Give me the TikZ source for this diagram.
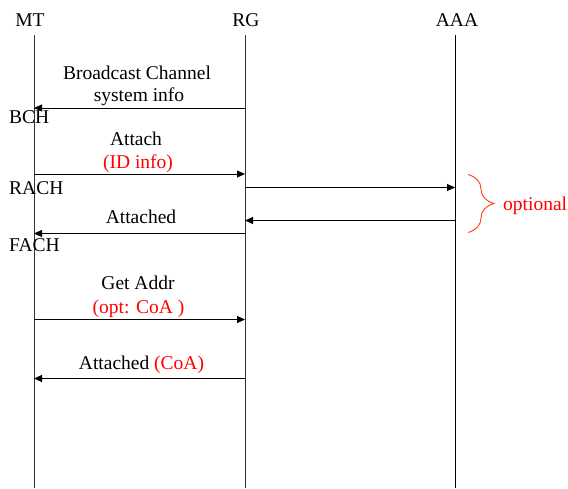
\documentclass[tikz,border=0pt]{standalone}
\usepackage{fontspec}
\setmainfont{Liberation Serif}
\usepackage{tikz}
\usetikzlibrary{arrows.meta,decorations.pathreplacing}

\definecolor{bracered}{RGB}{255,60,20}

\tikzset{
  lifeline/.style={line width=0.8pt, black!80},
  msg/.style={line width=0.8pt, -{Triangle[length=8pt,width=7pt]}},
  lbl/.style={anchor=base, inner sep=0pt, font=\fontsize{19.5}{23}\selectfont},
  chan/.style={anchor=base west, inner sep=0pt, font=\fontsize{19.5}{23}\selectfont},
}

\begin{document}
\begin{tikzpicture}[x=1pt,y=-1pt]
    \useasboundingbox (0,0) rectangle (568,488);
    % entities
    \node[lbl] at (30,26) (MT) {MT};
    \node[lbl] at (246,26) (RG) {RG};
    \node[lbl] at (457,26) (AAA) {AAA};
    \coordinate (mttop) at (34,35);   \coordinate (mtbot) at (34,488);
    \coordinate (rgtop) at (245,35);  \coordinate (rgbot) at (245,488);
    \coordinate (aaatop) at (455,35); \coordinate (aaabot) at (455,488);
    \draw[lifeline] (mttop) -- (mtbot);
    \draw[lifeline] (rgtop) -- (rgbot);
    \draw[line width=0.8pt] (aaatop) -- (aaabot);
%
    % broadcast
    \coordinate (bcA) at (245,108); \coordinate (bcB) at (34,108);
    \draw[msg] (bcA) -- (bcB);
    \node[lbl] at (137,79) (bc1) {Broadcast Channel};
    \node[lbl] at (139,101.5) (bc2) {system info};
    \node[chan] at (9,123.5) (bch) {BCH};
%
    % attach
    \coordinate (atA) at (34,174); \coordinate (atB) at (245,174);
    \draw[msg] (atA) -- (atB);
    \node[lbl] at (136,145.5) (at1) {Attach};
    \node[lbl, red] at (138,168) (at2) {(ID info)};
    \node[chan] at (9,194.5) (rach) {RACH};
%
    % optional AAA exchange
    \coordinate (aaA) at (245,187.5); \coordinate (aaB) at (455,187.5);
    \draw[msg] (aaA) -- (aaB);
    \coordinate (abA) at (455,220.5); \coordinate (abB) at (245,220.5);
    \draw[msg] (abA) -- (abB);
    \coordinate (brtop) at (468,174.5); \coordinate (brbot) at (468,232.5);
    \draw[bracered, line width=0.9pt, decorate,
          decoration={brace, amplitude=26pt, aspect=0.5}] (brtop) -- (brbot);
    \node[chan, red] at (503,210.5) (opt) {optional};
%
    % attached
    \coordinate (adA) at (245,233.5); \coordinate (adB) at (34,233.5);
    \draw[msg] (adA) -- (adB);
    \node[lbl] at (141,223) (ad1) {Attached};
    \node[chan] at (9,251) (fach) {FACH};
%
    % get addr
    \coordinate (gaA) at (34,319.5); \coordinate (gaB) at (245,319.5);
    \draw[msg] (gaA) -- (gaB);
    \node[lbl] at (138,289.5) (ga1) {Get Addr};
    \node[lbl, red] at (138.5,313.5) (ga2) {(opt: CoA )};
%
    % attached with CoA
    \coordinate (acA) at (245,378.5); \coordinate (acB) at (34,378.5);
    \draw[msg] (acA) -- (acB);
    \node[lbl] at (141.5,369.5) (ac1) {Attached \textcolor{red}{(CoA)}};
  \end{tikzpicture}
\end{document}
